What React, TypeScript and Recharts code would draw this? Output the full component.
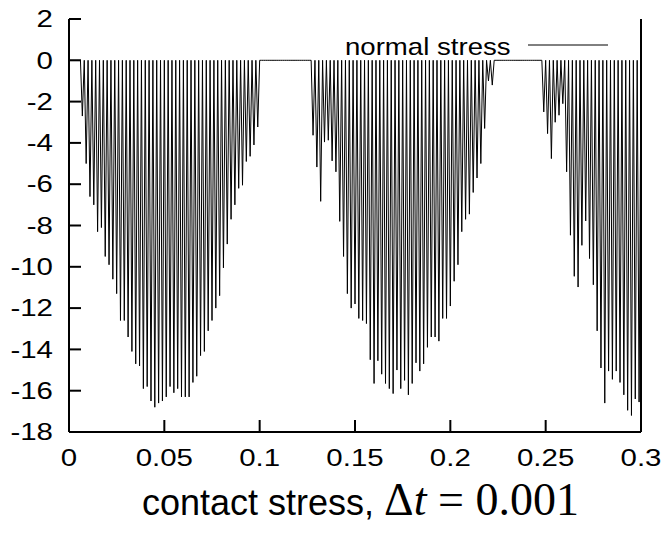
import { Label, Legend, Line, LineChart, XAxis, YAxis } from "recharts"

// number of time steps (dt = 0.001)
const dtSteps = 300

// contact stress spikes, one every other step
const hump1Start = 7
const hump1 = [
  -2.7, -5.0, -6.6, -7.0, -8.3, -8.1, -9.5, -9.9, -10.6, -11.3, -12.6, -12.6, -13.4, -14.1, -14.7, -14.8,
  -15.9, -15.8, -16.5, -16.8, -16.6, -16.5, -16.3, -15.8, -16.1, -15.9, -16.3, -16.3, -16.3, -15.6, -15.3,
  -14.3, -14.1, -13.1, -12.6, -12.0, -11.4, -10.05, -8.9, -7.7, -7.0, -6.2, -6.05, -4.9, -4.65, -4.1, -3.23,
]
const hump2Start = 128
const hump2 = [
  -3.63, -5.17, -6.83, -3.96, -3.87, -4.87, -5.4, -7.8, -9.5, -11.3, -12.0, -11.8, -12.5, -12.6, -12.75,
  -14.5, -15.65, -14.55, -15.2, -15.65, -15.9, -16.14, -15.0, -15.9, -15.5, -16.2, -15.65, -14.65, -15.05,
  -14.7, -13.9, -13.4, -13.4, -13.6, -12.5, -12.5, -11.9, -10.7, -9.9, -8.3, -7.7, -7.45, -6.4, -5.7, -5.0,
  -3.3, -1.0, -1.2,
]
const hump3Start = 249
const hump3 = [
  -2.5, -3.55, -4.76, -3.0, -2.66, -2.1, -5.4, -8.47, -10.46, -10.98, -8.96, -7.78, -9.6, -10.87, -13.1,
  -14.9, -16.6, -15.05, -15.45, -15.05, -15.6, -16.2, -16.95, -17.2, -16.4, -16.55,
]

const xTicks = [0, 0.05, 0.1, 0.15, 0.2, 0.25, 0.3]
const yTicks = [-18, -16, -14, -12, -10, -8, -6, -4, -2, 0, 2]

const humps = [
  { start: hump1Start, values: hump1 },
  { start: hump2Start, values: hump2 },
  { start: hump3Start, values: hump3 },
]

const stressAt = (k: number) => {
  for (const h of humps) {
    const d = k - h.start
    if (d >= 0 && d % 2 === 0 && d / 2 < h.values.length) return h.values[d / 2]
  }
  return 0
}

const data = Array.from({ length: dtSteps + 1 }, (_, k) => ({
  t: +(k * 0.001).toFixed(3),
  stress: stressAt(k),
}))

const font = "'Liberation Sans', Arial, Helvetica, sans-serif"
const serif = "'Liberation Serif', 'Times New Roman', serif"
const stretch = 1.28

// gnuplot text in the picture is a little wide, so stretch it sideways
const renderXTick = (props: any) => {
  const { x, y, payload } = props
  return (
    <text
      x={x}
      y={y}
      dy="0.71em"
      textAnchor="middle"
      fontSize={23}
      fontFamily={font}
      fill="#000"
      transform={`translate(${x} ${y}) scale(${stretch} 1) translate(${-x} ${-y})`}
    >
      {payload.value}
    </text>
  )
}

const renderYTick = (props: any) => {
  const { x, y, payload } = props
  return (
    <text
      x={x}
      y={y}
      dy="0.36em"
      textAnchor="end"
      fontSize={23}
      fontFamily={font}
      fill="#000"
      transform={`translate(${x} ${y}) scale(${stretch} 1) translate(${-x} ${-y})`}
    >
      {payload.value}
    </text>
  )
}

const renderTitle = (props: any) => {
  const { y } = props.viewBox
  return (
    <text x={142} y={y + 83} fill="#000">
      <tspan fontFamily={font} fontSize={36}>contact stress, </tspan>
      <tspan fontFamily={serif} fontSize={46}>Δ</tspan>
      <tspan fontFamily={serif} fontSize={46} fontStyle="italic">t</tspan>
      <tspan fontFamily={serif} fontSize={46}> = 0.001</tspan>
    </text>
  )
}

const renderLegend = () => (
  <svg width={300} height={40}>
    <text
      x={5}
      y={30}
      fontSize={24}
      fontFamily={font}
      fill="#000"
      transform="translate(5 0) scale(1.15 1) translate(-5 0)"
    >
      normal stress
    </text>
    <line x1={188} y1={20} x2={268} y2={20} stroke="#000" strokeWidth={1} />
  </svg>
)

export default function App() {
  return (
    <div style={{ position: "absolute", left: 0, top: 0, width: 667, height: 533, background: "#fff" }}>
      <LineChart width={667} height={533} data={data} margin={{ top: 19, right: 0, left: 0, bottom: 0 }}>
        <XAxis
          xAxisId="b"
          dataKey="t"
          type="number"
          domain={[0, 0.3]}
          ticks={xTicks}
          height={101}
          tickSize={-12}
          tickMargin={30}
          tick={renderXTick}
          axisLine={{ stroke: "#000", strokeWidth: 2 }}
          tickLine={{ stroke: "#000", strokeWidth: 2 }}
        >
          <Label content={renderTitle} />
        </XAxis>
        <XAxis
          xAxisId="t"
          orientation="top"
          dataKey="t"
          type="number"
          domain={[0, 0.3]}
          ticks={xTicks}
          height={0}
          tickSize={-12}
          tick={false}
          axisLine={{ stroke: "#000", strokeWidth: 2 }}
          tickLine={{ stroke: "#000", strokeWidth: 2 }}
        />
        <YAxis
          yAxisId="l"
          type="number"
          domain={[-18, 2]}
          ticks={yTicks}
          width={69}
          tickSize={-12}
          tickMargin={28}
          tick={renderYTick}
          axisLine={{ stroke: "#000", strokeWidth: 2 }}
          tickLine={{ stroke: "#000", strokeWidth: 2 }}
        />
        <YAxis
          yAxisId="r"
          orientation="right"
          type="number"
          domain={[-18, 2]}
          ticks={yTicks}
          width={26}
          tickSize={-12}
          tick={false}
          axisLine={{ stroke: "#000", strokeWidth: 2 }}
          tickLine={{ stroke: "#000", strokeWidth: 2 }}
        />
        <Legend
          content={renderLegend}
          verticalAlign="middle"
          layout="horizontal"
          wrapperStyle={{ position: "absolute", top: 25, left: 340, width: 300 }}
        />
        <Line
          xAxisId="b"
          yAxisId="l"
          type="linear"
          dataKey="stress"
          stroke="#000"
          strokeWidth={1}
          dot={false}
          activeDot={false}
          isAnimationActive={false}
        />
      </LineChart>
    </div>
  )
}
